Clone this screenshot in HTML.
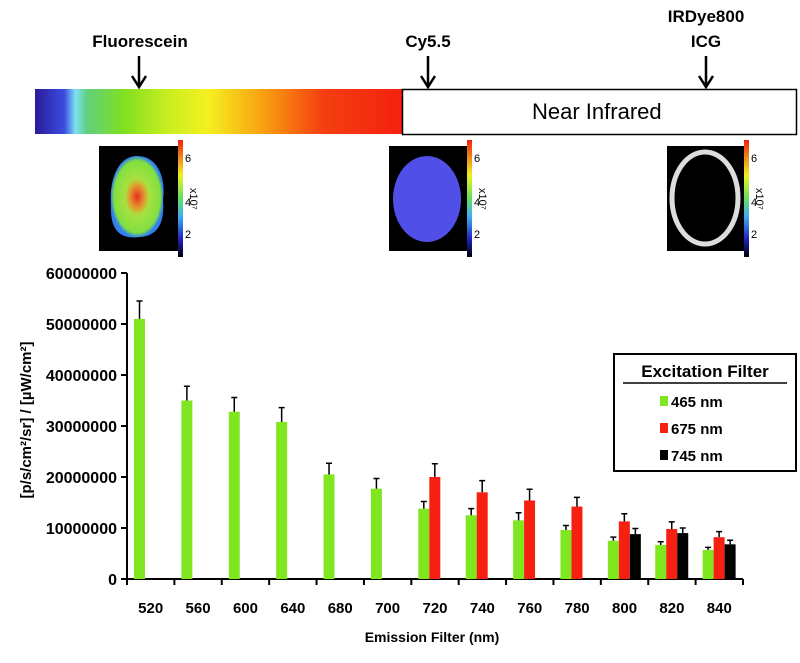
<!DOCTYPE html>
<html><head><meta charset="utf-8"><style>
body{margin:0;background:#fff;width:800px;height:658px;overflow:hidden;font-family:"Liberation Sans",sans-serif}
</style></head><body>
<svg width="800" height="658" viewBox="0 0 800 658" xmlns="http://www.w3.org/2000/svg">
<defs>
<linearGradient id="spec" x1="0" x2="1" y1="0" y2="0">
<stop offset="0" stop-color="#2a1a9a"/><stop offset="0.08" stop-color="#3a4ee0"/><stop offset="0.11" stop-color="#7fe0f5"/><stop offset="0.14" stop-color="#60d080"/><stop offset="0.24" stop-color="#80e020"/><stop offset="0.36" stop-color="#c8ee20"/><stop offset="0.47" stop-color="#f5f020"/><stop offset="0.62" stop-color="#f8a010"/><stop offset="0.78" stop-color="#f44010"/><stop offset="1" stop-color="#f42010"/>
</linearGradient>
<linearGradient id="cbar" x1="0" x2="0" y1="1" y2="0">
<stop offset="0" stop-color="#000"/><stop offset="0.15" stop-color="#2020c0"/><stop offset="0.35" stop-color="#40b0f0"/><stop offset="0.5" stop-color="#60e060"/><stop offset="0.7" stop-color="#f0f020"/><stop offset="1" stop-color="#f02010"/>
</linearGradient>
<radialGradient id="blob1"><stop offset="0" stop-color="#e83020"/><stop offset="0.3" stop-color="#e0a030"/><stop offset="0.45" stop-color="#a8e040"/><stop offset="0.88" stop-color="#80e040"/><stop offset="1" stop-color="#3080f0"/></radialGradient>
</defs>
<g>
<rect x="35" y="89" width="368" height="45" fill="url(#spec)"/>
<rect x="402.5" y="89.5" width="394" height="45" fill="#fff" stroke="#000" stroke-width="1.5"/>
<text x="532" y="119" font-size="22" font-family="Liberation Sans, sans-serif">Near Infrared</text>
<g font-weight="bold" font-size="17" text-anchor="middle" font-family="Liberation Sans Narrow, Liberation Sans, sans-serif">
<text x="140" y="47">Fluorescein</text>
<text x="428" y="47">Cy5.5</text>
<text x="706" y="22">IRDye800</text>
<text x="706" y="47">ICG</text>
</g>
<g stroke="#000" stroke-width="2.5" fill="none">
<path d="M139 56V86M132 76L139 87L146 76"/>
<path d="M428 56V86M421 76L428 87L435 76"/>
<path d="M706 56V86M699 76L706 87L713 76"/>
</g>
</g>
<g>
<rect x="99" y="146" width="79" height="105" fill="#000"/>
<path d="M137 156C158 156 166 178 163 200C165 222 158 236 140 237C118 240 110 228 111 205C109 180 118 156 137 156Z" fill="url(#blob1)"/>
<rect x="178" y="140" width="5" height="117" fill="url(#cbar)"/>
</g>
<g>
<rect x="389" y="146" width="78" height="105" fill="#000"/>
<ellipse cx="427" cy="199" rx="34" ry="43" fill="#5050e8"/>
<rect x="467" y="140" width="5" height="117" fill="url(#cbar)"/>
</g>
<g>
<rect x="667" y="146" width="77" height="105" fill="#000"/>
<ellipse cx="705" cy="198" rx="33" ry="46" fill="none" stroke="#ddd" stroke-width="5"/>
<rect x="744" y="140" width="5" height="117" fill="url(#cbar)"/>
</g>
<g font-size="11" font-family="Liberation Sans Narrow, Liberation Sans, sans-serif">
<text x="185" y="162">6</text><text x="185" y="206">4</text><text x="185" y="238">2</text>
<text x="474" y="162">6</text><text x="474" y="206">4</text><text x="474" y="238">2</text>
<text x="751" y="162">6</text><text x="751" y="206">4</text><text x="751" y="238">2</text>
<text transform="translate(190,188) rotate(90)">x10⁷</text>
<text transform="translate(479,188) rotate(90)">x10⁷</text>
<text transform="translate(756,188) rotate(90)">x10⁷</text>
</g>
<g id="chart"></g>
<g>
<rect x="614" y="354" width="182" height="117" fill="#fff" stroke="#000" stroke-width="2"/>
<text x="705" y="377" font-size="17" font-weight="bold" text-anchor="middle">Excitation Filter</text>
<line x1="623" y1="383" x2="787" y2="383" stroke="#000" stroke-width="1.5"/>
<rect x="660" y="396" width="8" height="10" fill="#80e620"/>
<text x="671" y="407" font-size="15" font-weight="bold">465 nm</text>
<rect x="660" y="423" width="8" height="10" fill="#f52010"/>
<text x="671" y="434" font-size="15" font-weight="bold">675 nm</text>
<rect x="660" y="450" width="8" height="10" fill="#000"/>
<text x="671" y="461" font-size="15" font-weight="bold">745 nm</text>
</g>
<text transform="translate(31,420) rotate(-90)" font-size="15" font-weight="bold" text-anchor="middle">[p/s/cm²/sr] / [µW/cm²]</text>
<text x="432" y="642" font-size="14" font-weight="bold" text-anchor="middle">Emission Filter (nm)</text>
</svg>
<script>
const categories=["520","560","600","640","680","700","720","740","760","780","800","820","840"];
const g465=[51000000,35000000,32800000,30800000,20500000,17700000,13800000,12500000,11500000,9600000,7500000,6700000,5700000];
const e465=[3500000,2800000,2800000,2800000,2200000,2000000,1400000,1300000,1500000,900000,700000,600000,500000];
const g675=[null,null,null,null,null,null,20000000,17000000,15400000,14200000,11300000,9800000,8200000];
const e675=[null,null,null,null,null,null,2600000,2300000,2200000,1800000,1500000,1400000,1100000];
const g745=[null,null,null,null,null,null,null,null,null,null,8800000,9000000,6800000];
const e745=[null,null,null,null,null,null,null,null,null,null,1100000,1000000,800000];
const yTicks=[0,10000000,20000000,30000000,40000000,50000000,60000000];
const NS="http://www.w3.org/2000/svg";
const chart=document.getElementById('chart');
const x0=127,x1=743,y0=579,yTop=273,yMax=60000000;
const gw=(x1-x0)/categories.length;
function ys(v){return y0-(v/yMax)*(y0-yTop);}
function el(t,a){const e=document.createElementNS(NS,t);for(const k in a)e.setAttribute(k,a[k]);chart.appendChild(e);return e;}
let ax=el('path',{d:`M${x0} ${yTop}V${y0}H${x1}`,stroke:'#000','stroke-width':2,fill:'none'});


yTicks.forEach(v=>{
  const y=ys(v);
  el('line',{x1:x0-6,x2:x0,y1:y,y2:y,stroke:'#000','stroke-width':2});
  const t=el('text',{x:x0-10,y:y+6,'text-anchor':'end','font-size':16,'font-weight':'bold'});
  t.textContent=String(v);
  
  
});
for(let i=0;i<=categories.length;i++){const x=x0+i*gw;el('line',{x1:x,x2:x,y1:y0,y2:y0+6,stroke:'#000','stroke-width':2});}
categories.forEach((c,i)=>{
  const t=el('text',{x:x0+i*gw+gw/2,y:613,'text-anchor':'middle','font-size':15,'font-weight':'bold'});
  t.textContent=c;
  
  
});
const series=[[g465,e465,'#80e620','465'],[g675,e675,'#f52010','675'],[g745,e745,'#000','745']];
const bw=11;
series.forEach((s,si)=>{
  s[0].forEach((v,i)=>{
    if(v==null)return;
    const x=x0+i*gw+7+si*bw;
    const r=el('rect',{x:x,y:ys(v),width:bw,height:y0-ys(v),fill:s[2]});
    
    
    const cx=x+bw/2,ye=ys(v+s[1][i]);
    el('path',{d:`M${cx} ${ys(v)}V${ye}M${cx-3} ${ye}H${cx+3}`,stroke:'#000','stroke-width':1.5,fill:'none'});
  });
});
</script>
</body></html>
